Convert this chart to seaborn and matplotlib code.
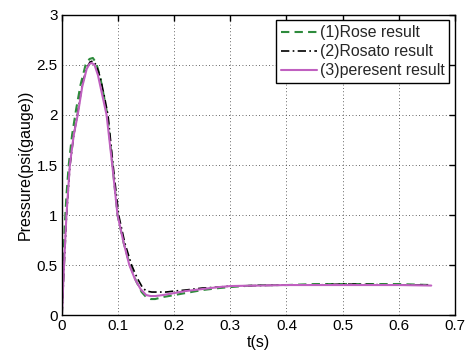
import matplotlib
matplotlib.use("Agg")
import matplotlib.pyplot as plt
import seaborn as sns
import pandas as pd

# (1) Rose result
t_rose = [0, 0.002, 0.005, 0.008, 0.012, 0.018, 0.025, 0.033, 0.042, 0.049, 0.055, 0.061, 0.068, 0.075,
          0.081, 0.090, 0.099, 0.110, 0.121, 0.132, 0.142, 0.150, 0.158, 0.166, 0.18, 0.2, 0.22, 0.25,
          0.28, 0.3, 0.35, 0.4, 0.45, 0.5, 0.55, 0.6, 0.658]
p_rose = [0, 0.45, 0.9, 1.2, 1.5, 1.8, 2.05, 2.3, 2.5, 2.56, 2.57, 2.52, 2.38, 2.18,
          2.0, 1.5, 1.0, 0.72, 0.5, 0.34, 0.23, 0.18, 0.16, 0.16, 0.18, 0.2, 0.22, 0.25,
          0.27, 0.28, 0.3, 0.3, 0.31, 0.31, 0.31, 0.31, 0.3]

# (2) Rosato result
t_rosato = [0, 0.004, 0.008, 0.014, 0.021, 0.028, 0.036, 0.044, 0.050, 0.055, 0.061, 0.068, 0.075,
            0.082, 0.091, 0.101, 0.112, 0.124, 0.134, 0.143, 0.150, 0.16, 0.17, 0.185, 0.2, 0.22,
            0.25, 0.28, 0.3, 0.35, 0.4, 0.45, 0.5, 0.55, 0.6, 0.658]
p_rosato = [0, 0.5, 0.98, 1.48, 1.8, 2.02, 2.3, 2.47, 2.53, 2.54, 2.5, 2.38, 2.2,
            2.0, 1.5, 1.0, 0.72, 0.5, 0.37, 0.28, 0.24, 0.23, 0.23, 0.23, 0.24, 0.25,
            0.27, 0.28, 0.29, 0.295, 0.3, 0.3, 0.31, 0.305, 0.3, 0.3]

# (3) present result
t_present = [0, 0.0036, 0.008, 0.014, 0.021, 0.028, 0.036, 0.044, 0.049, 0.053, 0.058, 0.064, 0.071,
             0.0795, 0.0896, 0.099, 0.110, 0.120, 0.130, 0.140, 0.150, 0.158, 0.166, 0.18, 0.2, 0.22,
             0.25, 0.28, 0.3, 0.35, 0.4, 0.45, 0.5, 0.55, 0.6, 0.658]
p_present = [0, 0.5, 1.0, 1.5, 1.8, 2.0, 2.28, 2.46, 2.51, 2.52, 2.5, 2.4, 2.22,
             2.0, 1.5, 1.0, 0.72, 0.5, 0.36, 0.26, 0.2, 0.19, 0.19, 0.2, 0.22, 0.24,
             0.26, 0.28, 0.29, 0.295, 0.3, 0.3, 0.3, 0.3, 0.3, 0.295]

labels = ["(1)Rose result", "(2)Rosato result", "(3)peresent result"]
x_ticks = [0, 0.1, 0.2, 0.3, 0.4, 0.5, 0.6, 0.7]
y_ticks = [0, 0.5, 1, 1.5, 2, 2.5, 3]
tick_text_x = ["0", "0.1", "0.2", "0.3", "0.4", "0.5", "0.6", "0.7"]
tick_text_y = ["0", "0.5", "1", "1.5", "2", "2.5", "3"]

sns.set_theme(style="white")
plt.rcParams["font.family"] = ["Liberation Sans", "DejaVu Sans"]

fig = plt.figure(figsize=(4.66, 3.56), dpi=100)
ax = fig.add_axes([0.133, 0.115, 0.843, 0.843])

df1 = pd.DataFrame({"t": t_rose, "p": p_rose})
df2 = pd.DataFrame({"t": t_rosato, "p": p_rosato})
df3 = pd.DataFrame({"t": t_present, "p": p_present})

sns.lineplot(data=df1, x="t", y="p", ax=ax, color="#2e8b3c", lw=1.5, sort=False,
             label=labels[0], linestyle=(0, (4, 2.5)))
sns.lineplot(data=df2, x="t", y="p", ax=ax, color="black", lw=1.2, sort=False,
             label=labels[1], linestyle=(0, (5, 2, 1, 2)))
sns.lineplot(data=df3, x="t", y="p", ax=ax, color="#c060c0", lw=1.5, sort=False,
             label=labels[2], linestyle="-")

ax.set_xlim(0, 0.7)
ax.set_ylim(0, 3)
ax.set_xticks(x_ticks)
ax.set_xticklabels(tick_text_x)
ax.set_yticks(y_ticks)
ax.set_yticklabels(tick_text_y)
ax.grid(True, linestyle=(0, (1, 3)), color="#333333", linewidth=0.6)
ax.tick_params(direction="in", length=4, width=1, top=True, right=True,
               labelsize=11, colors="black", pad=3)
for s in ax.spines.values():
    s.set_color("black")
    s.set_linewidth(1.0)
ax.set_xlabel("t(s)", fontsize=11.5, color="black", labelpad=1)
ax.set_ylabel("Pressure(psi(gauge))", fontsize=11.5, color="black", labelpad=3)

leg = ax.legend(loc="upper right", fontsize=11.4, frameon=True, fancybox=False,
                edgecolor="black", framealpha=1, handlelength=2.3, handletextpad=0.15,
                borderpad=0.3, labelspacing=0.25, borderaxespad=0.35)
leg.get_frame().set_linewidth(1.0)

fig.savefig("out.png", dpi=100)
